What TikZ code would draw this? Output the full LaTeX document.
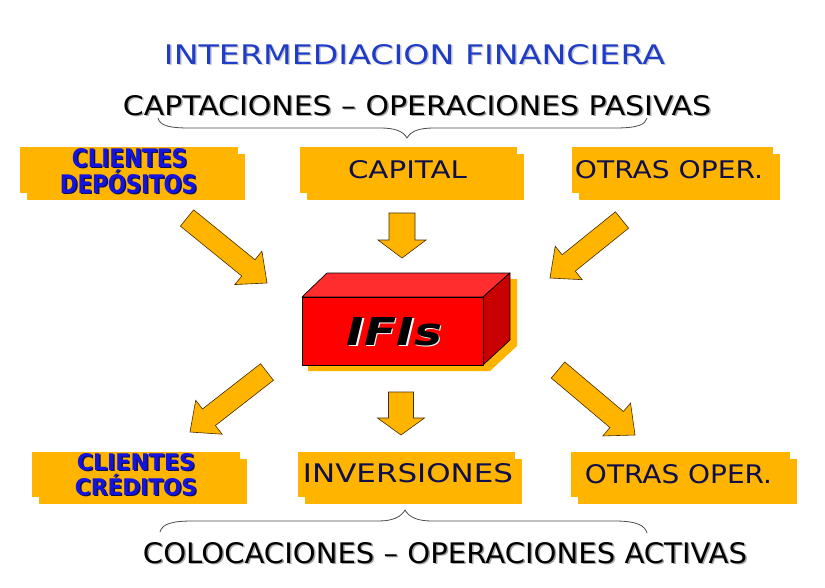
\documentclass[tikz,border=0pt]{standalone}
\usepackage{fontspec}
\setmainfont{DejaVu Sans}
\usetikzlibrary{calc,shadows}
\definecolor{orng}{RGB}{255,180,0}
\definecolor{navy}{RGB}{15,15,75}
\definecolor{bblue}{RGB}{20,20,225}
\definecolor{tblue}{RGB}{30,60,200}
\definecolor{redfront}{RGB}{255,0,0}
\definecolor{redtop}{RGB}{255,45,45}
\definecolor{redside}{RGB}{200,0,0}
\definecolor{arrowedge}{RGB}{70,45,0}
\newcommand\fitt[3]{\resizebox{#1pt}{#2pt}{#3}}
\newcommand\shd[2]{\rlap{\hspace*{1.5pt}\raisebox{-1.5pt}{\textcolor{#1}{#2}}}#2}
\newcommand\blkarrow[5]{%
  \coordinate (hb) at ($(#2)!#5pt!(#1)$);
  \draw[arrowsty] ($(#1)!#3pt!90:(#2)$) -- ($(hb)!#3pt!90:(#2)$) -- ($(hb)!#4pt!90:(#2)$) -- (#2)
     -- ($(hb)!#4pt!-90:(#2)$) -- ($(hb)!#3pt!-90:(#2)$) -- ($(#1)!#3pt!-90:(#2)$) -- cycle;}
\tikzset{
  box/.style={fill=orng, inner sep=0, drop shadow={shadow xshift=7pt, shadow yshift=-7pt, fill=orng, opacity=1}},
  txt/.style={anchor=base, inner sep=0},
  arrowsty/.style={fill=orng, draw=arrowedge, line width=0.6pt, line join=miter},
  bracesty/.style={draw=black!70, line width=0.8pt},
  edgesty/.style={draw=black, line width=0.7pt, line join=round},
}
\begin{document}
\begin{tikzpicture}[x=1pt,y=-1pt]
\useasboundingbox[fill=white] (0,0) rectangle (825,587);

% titles
\node[txt, text=tblue] (title) at (414.5,64) {\shd{black!20}{\fitt{501}{20}{INTERMEDIACION FINANCIERA}}};
\node[txt, text=black] (captac) at (417,115) {\shd{black!35}{\fitt{588}{20}{CAPTACIONES – OPERACIONES PASIVAS}}};
\node[txt, text=black] (coloc) at (445,563) {\shd{black!35}{\fitt{604}{21}{COLOCACIONES – OPERACIONES ACTIVAS}}};

% braces
\draw[bracesty] (158,118) .. controls (160,126) and (170,128) .. (190,128) -- (380,128)
  .. controls (395,128) and (403,131) .. (407,138)
  .. controls (411,131) and (419,128) .. (434,128) -- (615,128)
  .. controls (640,128) and (645,124) .. (647,118);
\draw[bracesty] (160,532) .. controls (162,524) and (172,521) .. (192,521) -- (378,521)
  .. controls (393,521) and (401,517) .. (405,510)
  .. controls (409,517) and (417,521) .. (432,521) -- (615,521)
  .. controls (638,521) and (645,526) .. (647,533);

% top boxes
\node[box, minimum width=218pt, minimum height=46pt] (dep) at (129,170) {};
\node[box, minimum width=217pt, minimum height=46pt] (cap) at (408.5,170) {};
\node[box, minimum width=201pt, minimum height=46pt] (otr1) at (672.5,170) {};
% bottom boxes
\node[box, minimum width=208pt, minimum height=45pt] (cre) at (136,474.5) {};
\node[box, minimum width=217pt, minimum height=45pt] (inv) at (406.5,474.5) {};
\node[box, minimum width=219pt, minimum height=45pt] (otr2) at (680.5,474.5) {};

% box texts
\node[txt, text=bblue] (depa) at (129.5,167) {\shd{navy}{\fitt{115}{19}{\bfseries CLIENTES}}};
\node[txt, text=bblue] (depb) at (128.5,193) {\shd{navy}{\fitt{137}{19}{\bfseries DEP\smash{Ó}SITOS}}};
\node[txt, text=navy] (capt) at (407.5,178) {\fitt{119}{18}{CAPITAL}};
\node[txt, text=navy] (otr1t) at (669,178) {\fitt{188}{18}{OTRAS OPER.}};
\node[txt, text=bblue] (crea) at (136,470) {\shd{navy}{\fitt{118}{17}{\bfseries CLIENTES}}};
\node[txt, text=bblue] (creb) at (136,495) {\shd{navy}{\fitt{122}{17}{\bfseries CR\smash{É}DITOS}}};
\node[txt, text=navy] (invt) at (408,482) {\fitt{210}{19}{INVERSIONES}};
\node[txt, text=navy] (otr2t) at (678.5,483) {\fitt{187}{19}{OTRAS OPER.}};

% IFIs block
\fill[orng] (308,303) -- (333,279) -- (517,279) -- (517,346) -- (490,371) -- (308,371) -- cycle;
\filldraw[fill=redtop, edgesty] (302,297) -- (327,273) -- (510,273) -- (483,297) -- cycle;
\filldraw[fill=redside, edgesty] (483,297) -- (510,273) -- (510,340) -- (483,365) -- cycle;
\filldraw[fill=redfront, edgesty] (302,297) rectangle (483,365);
\node[txt] (ifis) at (394.5,345) {\shd{white}{\fitt{95}{28}{\bfseries\itshape IFIs}}};

% arrows
\coordinate (t1a) at (187,218); \coordinate (t1b) at (267,283);
\coordinate (t2a) at (402,213); \coordinate (t2b) at (402,258);
\coordinate (t3a) at (622,220); \coordinate (t3b) at (550,278);
\coordinate (b1a) at (267,372); \coordinate (b1b) at (190,432);
\coordinate (b2a) at (401,392); \coordinate (b2b) at (401,435);
\coordinate (b3a) at (558,370); \coordinate (b3b) at (635,435);
\blkarrow{t1a}{t1b}{10.5}{21.5}{24}
\blkarrow{t2a}{t2b}{13}{24}{18}
\blkarrow{t3a}{t3b}{10.5}{21.5}{24}
\blkarrow{b1a}{b1b}{10.5}{21.5}{24}
\blkarrow{b2a}{b2b}{12.5}{23.5}{17}
\blkarrow{b3a}{b3b}{10.5}{21.5}{24}
\end{tikzpicture}
\end{document}
